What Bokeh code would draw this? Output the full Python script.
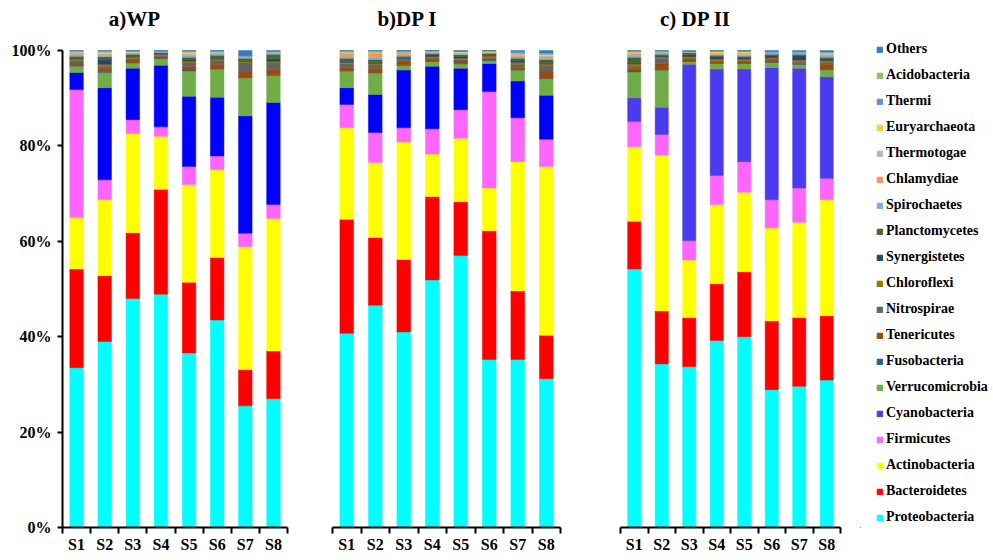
from bokeh.plotting import figure
from bokeh.layouts import row
from bokeh.models import (ColumnDataSource, Range1d, FixedTicker, Legend, LegendItem,
                          PrintfTickFormatter, Label)
from bokeh.embed import file_html
from bokeh.resources import INLINE

samples = ["S1", "S2", "S3", "S4", "S5", "S6", "S7", "S8"]
phyla = ["Proteobacteria", "Bacteroidetes", "Actinobacteria", "Firmicutes", "Cyanobacteria",
         "Verrucomicrobia", "Fusobacteria", "Tenericutes", "Nitrospirae", "Chloroflexi",
         "Synergistetes", "Planctomycetes", "Spirochaetes", "Chlamydiae", "Thermotogae",
         "Euryarchaeota", "Thermi", "Acidobacteria", "Others"]
colors = ["#00FFFF", "#FF0000", "#FFFF00", "#FF66FF", "#4B3BF0",
          "#70AD47", "#255E91", "#9E480E", "#636363", "#997300",
          "#264478", "#43682B", "#7CAFDD", "#F1975A", "#B7B7B7",
          "#FFCD33", "#698ED0", "#8CC168", "#327DC2"]
panel_titles = ["a)WP", "b)DP I", "c) DP II"]
cyano_colors = ["#0000FF", "#0000FF", "#4B3BF0"]
y_ticks = [0, 20, 40, 60, 80, 100]

# relative abundance (%) per sample, panel a) WP
wp = {
    "Proteobacteria":  [33.5, 39.0, 48.0, 48.9, 36.6, 43.5, 25.5, 27.0],
    "Bacteroidetes":   [20.7, 13.8, 13.8, 22.0, 14.8, 13.1, 7.6, 10.0],
    "Actinobacteria":  [10.8, 15.9, 20.8, 11.1, 20.5, 18.4, 25.8, 27.8],
    "Firmicutes":      [26.8, 4.2, 2.9, 2.0, 3.8, 2.9, 2.8, 2.9],
    "Cyanobacteria":   [3.6, 19.3, 10.8, 12.9, 14.7, 12.3, 24.6, 21.4],
    "Verrucomicrobia": [1.3, 3.2, 1.1, 1.4, 5.3, 5.9, 8.0, 5.7],
    "Fusobacteria":    [0.2, 0.2, 0.1, 0.1, 0.2, 0.1, 0.1, 0.1],
    "Tenericutes":     [0.5, 0.7, 0.5, 0.4, 0.7, 0.9, 1.1, 1.1],
    "Nitrospirae":     [0.5, 0.4, 0.3, 0.1, 0.8, 0.8, 1.9, 1.4],
    "Chloroflexi":     [0.3, 0.4, 0.3, 0.3, 0.4, 0.3, 0.3, 0.3],
    "Synergistetes":   [0.2, 0.9, 0.2, 0.2, 0.2, 0.2, 0.2, 0.6],
    "Planctomycetes":  [0.4, 0.7, 0.4, 0.2, 0.6, 0.6, 0.5, 0.9],
    "Spirochaetes":    [0.4, 0.3, 0.2, 0.1, 0.3, 0.3, 0.2, 0.2],
    "Chlamydiae":      [0.2, 0.2, 0.1, 0.1, 0.3, 0.1, 0.1, 0.2],
    "Thermotogae":     [0.2, 0.2, 0.1, 0.0, 0.2, 0.3, 0.1, 0.1],
    "Euryarchaeota":   [0.1, 0.3, 0.2, 0.0, 0.3, 0.1, 0.0, 0.0],
    "Thermi":          [0.1, 0.1, 0.1, 0.1, 0.1, 0.1, 0.1, 0.1],
    "Acidobacteria":   [0.1, 0.1, 0.0, 0.0, 0.1, 0.0, 0.0, 0.0],
    "Others":          [0.1, 0.1, 0.1, 0.1, 0.1, 0.1, 1.1, 0.2],
}

# panel b) DP I
dp1 = {
    "Proteobacteria":  [40.7, 46.6, 41.0, 51.9, 57.0, 35.2, 35.2, 31.2],
    "Bacteroidetes":   [23.9, 14.2, 15.2, 17.5, 11.3, 27.0, 14.4, 9.1],
    "Actinobacteria":  [19.2, 15.7, 24.6, 8.9, 13.3, 9.0, 27.1, 35.4],
    "Firmicutes":      [4.9, 6.3, 3.0, 5.3, 6.0, 20.2, 9.2, 5.7],
    "Cyanobacteria":   [3.5, 8.0, 12.1, 13.1, 8.7, 5.9, 7.7, 9.2],
    "Verrucomicrobia": [3.5, 4.5, 1.0, 1.0, 0.9, 0.6, 2.3, 3.5],
    "Fusobacteria":    [0.1, 0.1, 0.1, 0.1, 0.1, 0.1, 0.1, 0.1],
    "Tenericutes":     [0.7, 0.9, 0.7, 0.4, 0.5, 0.4, 0.5, 1.3],
    "Nitrospirae":     [0.7, 0.8, 0.3, 0.2, 0.3, 0.2, 0.6, 1.4],
    "Chloroflexi":     [0.3, 0.2, 0.3, 0.3, 0.3, 0.3, 0.4, 0.3],
    "Synergistetes":   [0.2, 0.2, 0.2, 0.4, 0.4, 0.3, 0.3, 0.3],
    "Planctomycetes":  [0.7, 0.6, 0.3, 0.3, 0.3, 0.2, 0.6, 0.6],
    "Spirochaetes":    [0.4, 0.4, 0.3, 0.1, 0.2, 0.1, 0.3, 0.3],
    "Chlamydiae":      [0.6, 0.9, 0.4, 0.1, 0.1, 0.1, 0.2, 0.3],
    "Thermotogae":     [0.2, 0.2, 0.2, 0.1, 0.2, 0.0, 0.4, 0.2],
    "Euryarchaeota":   [0.1, 0.1, 0.0, 0.2, 0.2, 0.3, 0.1, 0.3],
    "Thermi":          [0.1, 0.1, 0.2, 0.0, 0.0, 0.0, 0.3, 0.2],
    "Acidobacteria":   [0.1, 0.1, 0.0, 0.0, 0.0, 0.0, 0.1, 0.1],
    "Others":          [0.1, 0.1, 0.1, 0.1, 0.2, 0.1, 0.2, 0.5],
}

# panel c) DP II
dp2 = {
    "Proteobacteria":  [54.2, 34.3, 33.7, 39.2, 40.0, 28.9, 29.6, 30.9],
    "Bacteroidetes":   [10.0, 11.1, 10.3, 11.9, 13.6, 14.4, 14.4, 13.5],
    "Actinobacteria":  [15.6, 32.7, 12.1, 16.6, 16.7, 19.5, 20.0, 24.3],
    "Firmicutes":      [5.3, 4.3, 4.0, 6.1, 6.4, 5.9, 7.2, 4.5],
    "Cyanobacteria":   [5.0, 5.7, 37.0, 22.3, 19.4, 27.7, 25.1, 21.3],
    "Verrucomicrobia": [5.4, 7.8, 0.6, 1.2, 1.2, 1.1, 0.8, 1.5],
    "Fusobacteria":    [0.2, 0.1, 0.1, 0.1, 0.1, 0.1, 0.1, 0.1],
    "Tenericutes":     [0.6, 1.3, 0.4, 0.3, 0.3, 0.4, 0.3, 1.0],
    "Nitrospirae":     [0.4, 1.1, 0.1, 0.2, 0.2, 0.2, 0.2, 0.4],
    "Chloroflexi":     [0.5, 0.3, 0.4, 0.3, 0.3, 0.3, 0.3, 0.4],
    "Synergistetes":   [0.2, 0.2, 0.4, 0.5, 0.4, 0.5, 0.9, 0.4],
    "Planctomycetes":  [1.2, 0.3, 0.5, 0.3, 0.2, 0.2, 0.3, 0.3],
    "Spirochaetes":    [0.4, 0.2, 0.1, 0.2, 0.2, 0.3, 0.3, 0.3],
    "Chlamydiae":      [0.3, 0.1, 0.0, 0.1, 0.2, 0.0, 0.0, 0.2],
    "Thermotogae":     [0.2, 0.2, 0.0, 0.2, 0.3, 0.1, 0.1, 0.3],
    "Euryarchaeota":   [0.2, 0.0, 0.0, 0.3, 0.3, 0.0, 0.0, 0.1],
    "Thermi":          [0.1, 0.1, 0.1, 0.1, 0.1, 0.2, 0.2, 0.1],
    "Acidobacteria":   [0.1, 0.1, 0.0, 0.0, 0.0, 0.0, 0.0, 0.1],
    "Others":          [0.1, 0.1, 0.2, 0.1, 0.1, 0.2, 0.2, 0.3],
}

FONT = "Liberation Serif"
H = 558
TOP_BORDER = 4
BOTTOM_BORDER = 31
PLOT_TOP_PX = 50          # pixel row of the 100% line
FRAME_H = H - TOP_BORDER - BOTTOM_BORDER
AXIS_H = H - BOTTOM_BORDER - PLOT_TOP_PX
Y_TOP = 100.0 * FRAME_H / AXIS_H        # room above 100% for the panel titles
TITLE_Y = 100.0 + (PLOT_TOP_PX - 18) * 100.0 / AXIS_H


def make_panel(data, title, cyano, show_y, width, bl, br, title_x):
    n = len(samples)
    xs = [i + 0.5 for i in range(n)]
    src_data = {"x": xs}
    for ph in phyla:
        src_data[ph] = data[ph]
    src = ColumnDataSource(src_data)
    p = figure(width=width, height=H, x_range=Range1d(0, n), y_range=Range1d(0, Y_TOP),
               output_backend="svg", toolbar_location=None,
               min_border_left=bl, min_border_right=br,
               min_border_top=TOP_BORDER, min_border_bottom=BOTTOM_BORDER)
    cols = [cyano if ph == "Cyanobacteria" else c for ph, c in zip(phyla, colors)]
    p.vbar_stack(phyla, x="x", width=0.48, color=cols, source=src, line_width=0.5)
    p.grid.visible = False
    p.outline_line_color = None
    p.background_fill_color = "white"
    p.border_fill_color = "white"

    p.add_layout(Label(x=title_x, y=TITLE_Y, text=title, text_font=FONT,
                       text_font_style="bold", text_font_size="21px", text_color="black",
                       text_align="center", text_baseline="middle"))

    xa = p.xaxis[0]
    xa.ticker = FixedTicker(ticks=xs, minor_ticks=list(range(n + 1)))
    xa.major_label_overrides = {x: s for x, s in zip(xs, samples)}
    xa.major_tick_out = 0
    xa.major_tick_in = 0
    xa.minor_tick_out = 6
    xa.minor_tick_in = 0
    xa.minor_tick_line_width = 2
    xa.minor_tick_line_color = "black"
    xa.axis_line_width = 2
    xa.axis_line_color = "black"
    xa.major_label_text_font = FONT
    xa.major_label_text_font_style = "bold"
    xa.major_label_text_font_size = "16px"
    xa.major_label_text_color = "black"
    xa.major_label_standoff = 2

    ya = p.yaxis[0]
    if show_y:
        ya.bounds = (0, 100)
        ya.ticker = FixedTicker(ticks=y_ticks, minor_ticks=[])
        ya.formatter = PrintfTickFormatter(format="%d%%")
        ya.major_tick_out = 5
        ya.major_tick_in = 0
        ya.major_tick_line_width = 2
        ya.major_tick_line_color = "black"
        ya.axis_line_width = 2
        ya.axis_line_color = "black"
        ya.major_label_text_font = FONT
        ya.major_label_text_font_style = "bold"
        ya.major_label_text_font_size = "16px"
        ya.major_label_text_color = "black"
        ya.major_label_standoff = 6
    else:
        ya.visible = False
    return p


pa = make_panel(wp, panel_titles[0], cyano_colors[0], True, 310, 62, 23, 2.56)
pb = make_panel(dp1, panel_titles[1], cyano_colors[1], False, 280, 22, 30, 2.63)
pc = make_panel(dp2, panel_titles[2], cyano_colors[2], False, 270, 30, 20, 2.73)

# legend panel: swatch proxies placed outside the visible range (nothing drawn in view)
pl = figure(width=133, height=H, x_range=Range1d(0, 1), y_range=Range1d(0, 1),
            output_backend="svg", toolbar_location=None,
            x_axis_location=None, y_axis_location=None,
            min_border_left=0, min_border_right=0, min_border_top=0, min_border_bottom=0)
pl.grid.visible = False
pl.outline_line_color = None
proxy = ColumnDataSource({"x": [-5.0], **{ph: [0.0] for ph in phyla}})
rl = pl.vbar_stack(phyla, x="x", width=0.5, color=colors, source=proxy)

items = [LegendItem(label=ph, renderers=[r]) for ph, r in zip(phyla, rl)]
items.reverse()
legend = Legend(items=items, location=(16, 2), ncols=1)
legend.label_text_font = FONT
legend.label_text_font_style = "bold"
legend.label_text_font_size = "14px"
legend.label_text_color = "black"
legend.glyph_width = 7
legend.glyph_height = 7
legend.label_standoff = 3
legend.label_height = 14
legend.spacing = 10
legend.padding = 0
legend.margin = 0
legend.border_line_color = None
legend.background_fill_alpha = 0
pl.add_layout(legend)

layout = row(pa, pb, pc, pl)
open("out.html", "w").write(file_html(layout, INLINE))
